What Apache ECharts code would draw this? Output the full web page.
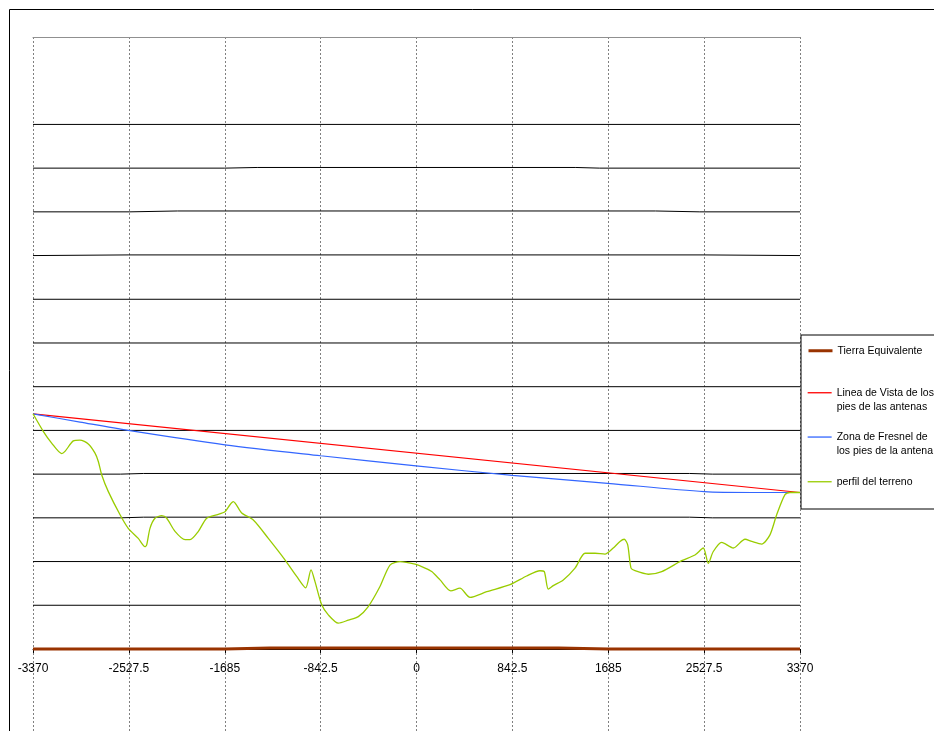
<!DOCTYPE html>
<html>
<head>
<meta charset="utf-8">
<script src="https://cdn.jsdelivr.net/npm/echarts@6/dist/echarts.min.js"></script>
<style>
  html, body { margin: 0; padding: 0; background: #fff; }
  #chart { width: 934px; height: 731px; }
</style>
</head>
<body>
<div id="chart"></div>
<script>
// Distance ticks along the path (m)
const xTicks = [-3370, -2527.5, -1685, -842.5, 0, 842.5, 1685, 2527.5, 3370];
const tickLabels = ['-3370', '-2527.5', '-1685', '-842.5', '0', '842.5', '1685', '2527.5', '3370'];

// Equivalent earth curve
const tierra = [[-3370, 0], [-1685, 0], [-1290, 0.25], [1250, 0.25], [1685, 0], [3370, 0]];

// Line of sight between antenna feet
const lineaVista = [[-3370, 53.8], [3370, 35.8]];

// Fresnel zone boundary
const fresnel = [
  [-3370, 53.8], [-2957, 51.9], [-2533, 50.0], [-1683, 46.7], [-842, 44.2],
  [-4, 41.9], [842, 39.7], [1680, 37.9], [2529, 36.0], [2950, 35.8], [3370, 35.8]
];

// Terrain profile
const terreno = [
  [-3370, 53.8], [-3280, 49.8], [-3206, 47.1], [-3118, 44.7], [-3089, 45.2],
  [-3016, 47.6], [-2957, 47.8], [-2884, 46.9], [-2825, 44.8], [-2796, 42.9],
  [-2766, 39.8], [-2708, 36.0], [-2605, 30.7], [-2533, 27.6], [-2445, 25.3],
  [-2386, 23.4], [-2371, 23.8], [-2342, 27.6], [-2298, 29.9], [-2239, 30.5],
  [-2195, 29.9], [-2122, 26.9], [-2034, 25.0], [-1990, 25.0], [-1917, 26.9],
  [-1844, 29.9], [-1756, 30.7], [-1683, 31.4], [-1639, 33.0], [-1610, 33.7],
  [-1536, 31.1], [-1434, 29.5], [-1302, 25.3], [-1156, 20.4], [-1053, 16.6],
  [-974, 14.0], [-927, 18.1], [-892, 15.4], [-833, 10.1], [-775, 7.8],
  [-687, 5.9], [-599, 6.6], [-511, 7.4], [-424, 9.7], [-321, 14.3],
  [-233, 19.2], [-145, 20.0], [-13, 19.4], [75, 18.5], [134, 17.7],
  [207, 15.8], [301, 13.3], [382, 13.9], [470, 11.8], [617, 13.1],
  [822, 14.7], [968, 16.7], [1085, 17.9], [1123, 17.7], [1158, 13.7],
  [1202, 14.5], [1290, 15.8], [1393, 18.5], [1481, 21.9], [1569, 21.9],
  [1656, 21.7], [1729, 23.1], [1788, 24.6], [1826, 25.1], [1856, 23.8],
  [1885, 18.5], [1920, 17.9], [2037, 17.1], [2155, 17.7], [2330, 20.2],
  [2447, 21.5], [2520, 23.1], [2564, 19.6], [2608, 22.3], [2682, 24.4],
  [2784, 23.1], [2887, 25.1], [2946, 24.6], [3033, 24.0], [3106, 26.1],
  [3165, 30.7], [3238, 35.3], [3282, 35.8], [3370, 35.8]
];

// Constant-height reference curves above the equivalent earth
const levelLines = [
  [[-3370, 10], [3370, 10]],
  [[-3370, 20], [3370, 20]],
  [[-3370, 30], [-2600, 30], [-2400, 30.15], [2400, 30.15], [2600, 30], [3370, 30]],
  [[-3370, 40], [-2600, 40], [-2400, 40.15], [2400, 40.15], [2600, 40], [3370, 40]],
  [[-3370, 50], [3370, 50]],
  [[-3370, 60], [3370, 60]],
  [[-3370, 70], [3370, 70]],
  [[-3370, 80], [3370, 80]],
  [[-3370, 90], [-2527.5, 90.15], [2527.5, 90.15], [3370, 90]],
  [[-3370, 100], [-2520, 100], [-2100, 100.2], [2100, 100.2], [2490, 100], [3370, 100]],
  [[-3370, 110], [-1685, 110], [-1400, 110.15], [1400, 110.15], [1610, 110], [3370, 110]],
  [[-3370, 120], [3370, 120]]
];

const NAME_TIERRA = 'Tierra Equivalente';
const NAME_VISTA = 'Linea de Vista de los\npies de las antenas';
const NAME_FRESNEL = 'Zona de Fresnel de\nlos pies de la antena';
const NAME_TERRENO = 'perfil del terreno';

const FONT = '"Liberation Sans", Arial, sans-serif';

// Plot geometry: value range of the height axis and where the distance axis sits
const Y_MIN = -20, Y_MAX = 140;
const GRID_TOP = 37, GRID_HEIGHT = 699.4;
const AXIS_OFFSET = -GRID_HEIGHT * (0 - Y_MIN) / (Y_MAX - Y_MIN);

const legendText = { color: '#000', fontSize: 10.5, fontFamily: FONT, lineHeight: 14.5 };
const legendBase = {
  orient: 'vertical', left: 807, itemWidth: 24, itemHeight: 10,
  selectedMode: false, padding: 0,
  itemStyle: { opacity: 0 },
  lineStyle: { width: 1.3 },
  textStyle: legendText
};

const series = [];
levelLines.forEach(function (d) {
  series.push({
    type: 'line', data: d, symbol: 'none', silent: true, z: 1,
    lineStyle: { color: '#000', width: 1 }
  });
});
series.push({
  name: NAME_VISTA, type: 'line', data: lineaVista, symbol: 'none', z: 3,
  lineStyle: { color: '#FF0000', width: 1.2 }, itemStyle: { color: '#FF0000' }
});
series.push({
  name: NAME_FRESNEL, type: 'line', data: fresnel, symbol: 'none', smooth: 0.3, z: 3,
  lineStyle: { color: '#3366FF', width: 1.2 }, itemStyle: { color: '#3366FF' }
});
series.push({
  name: NAME_TERRENO, type: 'line', data: terreno, symbol: 'none', smooth: 0.25, z: 4,
  lineStyle: { color: '#99CC00', width: 1.3 }, itemStyle: { color: '#99CC00' }
});
series.push({
  name: NAME_TIERRA, type: 'line', data: tierra, symbol: 'none', z: 5,
  lineStyle: { color: '#993300', width: 3 }, itemStyle: { color: '#993300' }
});

const chart = echarts.init(document.getElementById('chart'), null, { renderer: 'canvas' });
chart.setOption({
  animation: false,
  backgroundColor: '#fff',
  grid: {
    left: 33, top: GRID_TOP, width: 767, height: GRID_HEIGHT,
    containLabel: false, outerBoundsMode: 'none'
  },
  xAxis: [
    {
      type: 'value', min: -3370, max: 3370, interval: 842.5,
      position: 'bottom', offset: AXIS_OFFSET,
      axisLine: { show: true, onZero: false, lineStyle: { color: '#000', width: 1 } },
      axisTick: { show: true, length: 4, lineStyle: { color: '#000' } },
      axisLabel: {
        color: '#000', fontSize: 12, fontFamily: FONT, margin: 14,
        formatter: function (v) {
          const i = xTicks.findIndex(function (t) { return Math.abs(t - v) < 1e-6; });
          return i >= 0 ? tickLabels[i] : '';
        }
      },
      splitLine: { show: true, lineStyle: { color: '#808080', width: 1, type: [2, 2] } }
    },
    {
      type: 'value', position: 'top', min: -3370, max: 3370,
      axisLine: { show: true, onZero: false, lineStyle: { color: '#909090', width: 1 } },
      axisTick: { show: false }, axisLabel: { show: false }, splitLine: { show: false }
    }
  ],
  yAxis: {
    type: 'value', min: Y_MIN, max: Y_MAX,
    axisLine: { show: false }, axisTick: { show: false },
    axisLabel: { show: false }, splitLine: { show: false }
  },
  legend: [
    Object.assign({}, legendBase, {
      data: [NAME_TIERRA], top: 335, left: 801,
      padding: [8.5, 200, 151, 6],
      lineStyle: { width: 3 },
      borderColor: '#000', borderWidth: 1, backgroundColor: '#fff'
    }),
    Object.assign({}, legendBase, {
      data: [NAME_VISTA], top: 371, formatter: '\n{name}'
    }),
    Object.assign({}, legendBase, {
      data: [NAME_FRESNEL], top: 415.3, formatter: '\n{name}'
    }),
    Object.assign({}, legendBase, {
      data: [NAME_TERRENO], top: 474.5
    })
  ],
  graphic: [
    {
      type: 'rect', silent: true, z: -1,
      shape: { x: 9.5, y: 9.5, width: 1000, height: 1000 },
      style: { fill: 'none', stroke: '#000', lineWidth: 1 }
    }
  ],
  series: series
});
</script>
</body>
</html>
